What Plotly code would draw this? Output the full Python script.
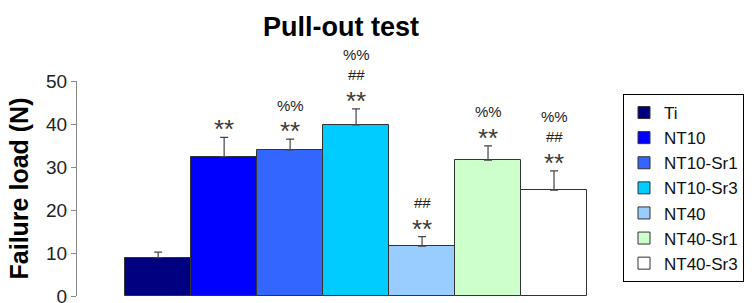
import plotly.graph_objects as go

groups = ["Ti", "NT10", "NT10-Sr1", "NT10-Sr3", "NT40", "NT40-Sr1", "NT40-Sr3"]
means = [8.9, 32.4, 34.0, 39.8, 11.6, 31.6, 24.6]
errors = [1.3, 4.5, 2.5, 3.7, 2.2, 3.3, 4.5]
colors = ["#000080", "#0000FF", "#3366FF", "#00CCFF", "#99CCFF", "#CCFFCC", "#FFFFFF"]
sig_star = [False, True, True, True, True, True, True]
sig_hash = [False, False, False, True, True, False, True]
sig_pct = [False, False, True, True, False, True, True]
y_ticks = [0, 10, 20, 30, 40, 50]

FONT = "Arial, Liberation Sans, Helvetica, sans-serif"

fig = go.Figure()
for g, m, e, c in zip(groups, means, errors, colors):
    fig.add_trace(go.Bar(
        x=[g], y=[m], name=g,
        marker=dict(color=c, line=dict(color="#333333", width=1)),
        error_y=dict(type="data", array=[e], arrayminus=[0], symmetric=False,
                     color="#444444", thickness=1.2, width=4),
        width=1.0,
    ))

for i, g in enumerate(groups):
    top = means[i] + errors[i]
    shift = 14
    if sig_star[i]:
        fig.add_annotation(x=g, y=top, xref="x", yref="y", text="**", showarrow=False,
                           font=dict(size=26, color="#3a3a3a", family=FONT),
                           yanchor="middle", yshift=shift - 6)
        shift += 20
    if sig_hash[i]:
        fig.add_annotation(x=g, y=top, xref="x", yref="y", text="##", showarrow=False,
                           font=dict(size=15, color="#222222", family=FONT),
                           yanchor="middle", yshift=shift)
        shift += 20
    if sig_pct[i]:
        fig.add_annotation(x=g, y=top, xref="x", yref="y", text="%%", showarrow=False,
                           font=dict(size=15, color="#222222", family=FONT),
                           yanchor="middle", yshift=shift)

fig.update_layout(
    width=755, height=303,
    margin=dict(l=77, r=168, t=81, b=7, autoexpand=False),
    paper_bgcolor="white", plot_bgcolor="white",
    barmode="overlay", bargap=0,
    font=dict(family=FONT, color="#111111"),
    title=dict(text="<b>Pull-out test</b>", x=341 / 755, xanchor="center",
               y=1 - 27 / 303, yanchor="middle", xref="container", yref="container",
               font=dict(size=27, color="#000000", family=FONT)),
    showlegend=True,
    legend=dict(xref="paper", yref="paper", x=(623 - 77) / 510, y=(296 - 94) / 215,
                xanchor="left", yanchor="top", bordercolor="#000000", borderwidth=1,
                bgcolor="white", font=dict(size=17, color="#111111", family=FONT),
                tracegroupgap=0),
)
fig.update_xaxes(range=[-1.23, 6.5], showticklabels=False, showline=False, ticks="",
                 showgrid=False, zeroline=False, fixedrange=True)
fig.update_yaxes(range=[0, 50], tickvals=y_ticks, ticks="outside", ticklen=5,
                 tickcolor="#888888", showline=True, linecolor="#888888", linewidth=1,
                 showgrid=False, zeroline=False, ticklabeloverflow="allow",
                 tickfont=dict(size=19, color="#222222", family=FONT),
                 title=dict(text="<b>Failure load (N)</b>", standoff=10,
                            font=dict(size=25, color="#000000", family=FONT)))

fig.write_html("out.html", config={"displayModeBar": False},
               post_script="document.body.style.margin='0';")
